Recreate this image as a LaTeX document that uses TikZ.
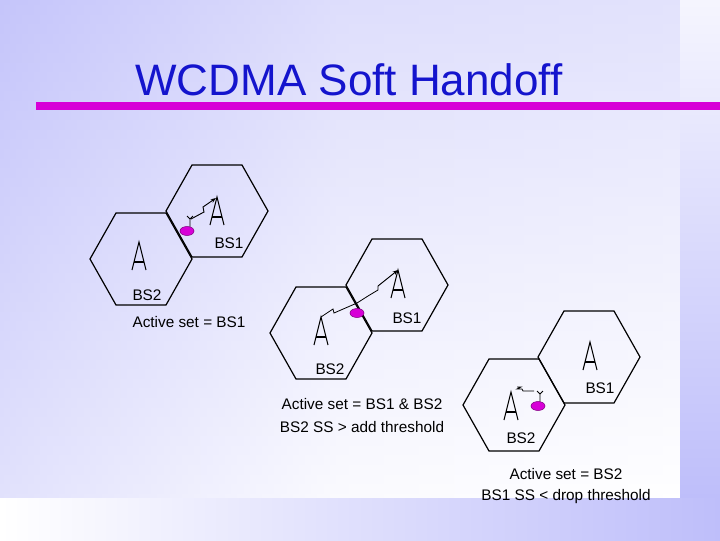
\documentclass[tikz,border=0pt]{standalone}
\usepackage{fontspec}
\setmainfont{Liberation Sans}
\usetikzlibrary{arrows.meta}
\definecolor{lav}{RGB}{190,190,250}
\definecolor{titleblue}{RGB}{20,20,205}
\definecolor{mag}{RGB}{215,0,215}
\tikzset{
  hexa/.style={draw=black,line width=0.9pt,line join=miter},
  lbl/.style={font=\fontsize{11.5pt}{13pt}\selectfont,inner sep=0pt,text=black},
  ant/.style={line width=0.8pt},
  mob/.style={fill=mag,draw=mag!60!black,line width=0.4pt},
  link/.style={line width=0.7pt,-{Stealth[length=4pt,width=3pt]}}
}
\newcommand{\hexat}[2]{\draw[hexa] (#1-51,#2) -- (#1-25,#2-46) -- (#1+25,#2-46) -- (#1+51,#2) -- (#1+25,#2+46) -- (#1-25,#2+46) -- cycle;}
\newcommand{\antat}[2]{\draw[ant] (#1-7,#2+28) -- (#1,#2) -- (#1+7,#2+28); \draw[ant] (#1-5,#2+20) -- (#1+5,#2+20);}
\begin{document}
\begin{tikzpicture}[x=0.75pt,y=-0.75pt]
\useasboundingbox (0,0) rectangle (720,540);
% background
\fill[white] (0,0) rectangle (720,540);
\shade[left color=lav,right color=white,middle color=white!85!lav] (0,0) rectangle (680,498);
\shade[top color=lav!80,bottom color=white,opacity=0.55] (0,0) rectangle (680,498);
\shade[top color=white!85!lav,bottom color=lav] (680,0) rectangle (720,498);
\shade[left color=white,right color=lav] (0,498) rectangle (720,540);
% title
\node[text=titleblue,font=\fontsize{33pt}{38pt}\selectfont,anchor=base] (title) at (349,95) {WCDMA Soft Handoff};
\draw[mag,line width=5.5pt] (36,106) -- (720,106);
% pair 1
\hexat{217}{211}\hexat{141}{259}
\antat{217}{197}\antat{139}{242}
\coordinate (m1) at (187,231);
\draw[ant,line width=0.6pt] (190,227) -- (190,219) (187,216) -- (190,219) -- (193,216);
\draw[link] (191,219) -- (204,212) -- (203,207) -- (216,198);
\draw[mob] (m1) ellipse (7 and 4.5);
\node[lbl] (p1a) at (229,243) {BS1};
\node[lbl] (p1b) at (147,295) {BS2};
\node[lbl] (p1c) at (189,322) {Active set = BS1};
% pair 2
\hexat{397}{285}\hexat{321}{333}
\antat{398}{270}\antat{321}{317}
\coordinate (m2) at (357,313);
\draw[ant,line width=0.6pt] (321,317) -- (333,309) -- (334,313) -- (357,303) -- (368,296) -- (378,290) -- (378,286);
\draw[link] (378,286) -- (398,270);
\draw[mob] (m2) ellipse (7 and 4.5);
\node[lbl] (p2a) at (407,318) {BS1};
\node[lbl] (p2b) at (330,369) {BS2};
\node[lbl] (p2c) at (362,404) {Active set = BS1 \& BS2};
\node[lbl] (p2d) at (362,427) {BS2 SS > add threshold};
% pair 3
\hexat{589}{357}\hexat{514}{405}
\antat{590}{342}\antat{511}{392}
\coordinate (m3) at (538,406);
\draw[ant,line width=0.6pt] (540,402) -- (540,394) (537,391) -- (540,394) -- (543,391);
\draw[ant,line width=0.6pt] (534,391) -- (523,391) -- (522,389) -- (517,389) -- (521,387) -- (517,387);
\draw[mob] (m3) ellipse (7 and 4.5);
\node[lbl] (p3a) at (600,388) {BS1};
\node[lbl] (p3b) at (521,438) {BS2};
\node[lbl] (p3c) at (566,474) {Active set = BS2};
\node[lbl] (p3d) at (566,497) {BS1 SS < drop threshold};
\end{tikzpicture}
\end{document}
